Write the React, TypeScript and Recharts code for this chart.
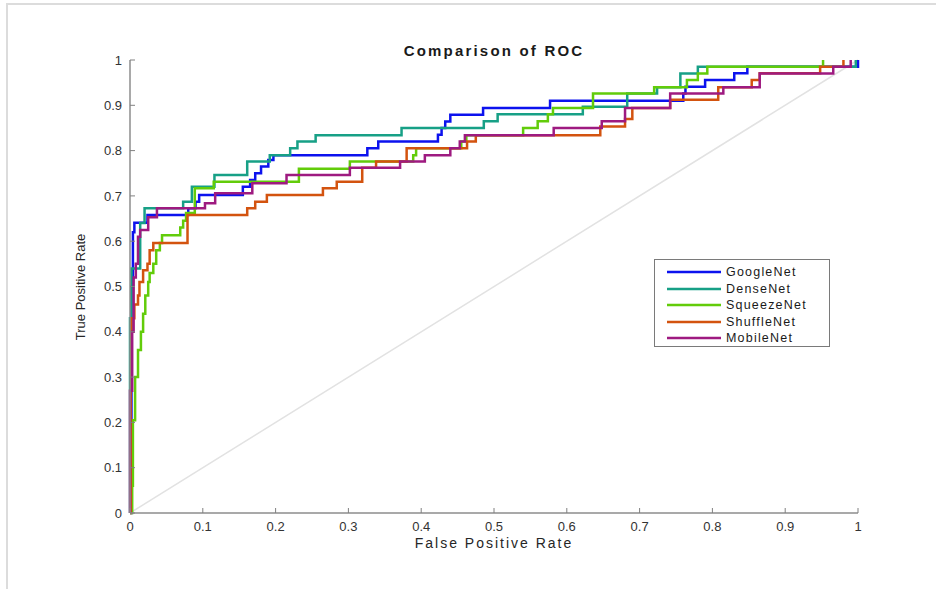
import { Line, LineChart, XAxis, YAxis } from "recharts";

// ROC points as [false positive rate, true positive rate]; the curve steps up at each fpr
const googleNetRoc: [number, number][] = [
  [0, 0], [0.002, 0.5], [0.004, 0.62], [0.006, 0.641], [0.024, 0.658], [0.08, 0.673],
  [0.09, 0.687], [0.095, 0.702], [0.155, 0.72], [0.165, 0.735], [0.172, 0.75], [0.18, 0.765],
  [0.19, 0.779], [0.197, 0.79], [0.326, 0.805], [0.341, 0.82], [0.423, 0.835], [0.428, 0.85],
  [0.433, 0.864], [0.44, 0.879], [0.485, 0.894], [0.577, 0.91], [0.76, 0.926], [0.763, 0.941],
  [0.79, 0.956], [0.83, 0.971], [0.848, 0.985], [1, 1],
];
const denseNetRoc: [number, number][] = [
  [0, 0], [0, 0.43], [0.002, 0.54], [0.014, 0.64], [0.02, 0.673], [0.073, 0.687],
  [0.085, 0.72], [0.116, 0.746], [0.161, 0.776], [0.192, 0.79], [0.22, 0.805], [0.23, 0.82],
  [0.255, 0.834], [0.373, 0.85], [0.486, 0.865], [0.505, 0.88], [0.622, 0.897], [0.683, 0.926],
  [0.724, 0.94], [0.756, 0.97], [0.78, 0.985], [0.997, 1],
];
const squeezeNetRoc: [number, number][] = [
  [0, 0], [0.003, 0.06], [0.004, 0.205], [0.007, 0.3], [0.011, 0.36], [0.015, 0.4],
  [0.018, 0.44], [0.021, 0.48], [0.025, 0.51], [0.027, 0.53], [0.032, 0.55], [0.036, 0.58],
  [0.041, 0.596], [0.044, 0.613], [0.069, 0.63], [0.073, 0.645], [0.077, 0.662], [0.089, 0.717],
  [0.115, 0.731], [0.232, 0.76], [0.302, 0.776], [0.389, 0.79], [0.393, 0.805], [0.455, 0.82],
  [0.462, 0.834], [0.54, 0.85], [0.56, 0.865], [0.574, 0.88], [0.581, 0.894], [0.636, 0.926],
  [0.72, 0.94], [0.765, 0.956], [0.78, 0.97], [0.793, 0.985], [0.952, 1],
];
const shuffleNetRoc: [number, number][] = [
  [0, 0], [0.001, 0.27], [0.002, 0.43], [0.006, 0.46], [0.011, 0.48], [0.013, 0.51],
  [0.018, 0.536], [0.024, 0.55], [0.027, 0.58], [0.032, 0.596], [0.079, 0.658], [0.161, 0.673],
  [0.172, 0.687], [0.188, 0.702], [0.265, 0.717], [0.284, 0.731], [0.319, 0.762], [0.338, 0.776],
  [0.38, 0.805], [0.463, 0.82], [0.475, 0.834], [0.646, 0.853], [0.68, 0.87], [0.69, 0.894],
  [0.742, 0.912], [0.808, 0.94], [0.854, 0.956], [0.865, 0.971], [0.948, 0.985], [0.98, 1],
];
const mobileNetRoc: [number, number][] = [
  [0, 0], [0, 0.27], [0.003, 0.4], [0.005, 0.52], [0.008, 0.55], [0.011, 0.61],
  [0.014, 0.625], [0.025, 0.653], [0.037, 0.673], [0.103, 0.684], [0.117, 0.706], [0.168, 0.728],
  [0.215, 0.746], [0.302, 0.762], [0.371, 0.776], [0.405, 0.79], [0.44, 0.805], [0.453, 0.82],
  [0.46, 0.834], [0.582, 0.85], [0.648, 0.865], [0.68, 0.894], [0.742, 0.926], [0.815, 0.94],
  [0.865, 0.97], [0.966, 0.985], [0.99, 1],
];
const chanceLine: [number, number][] = [[0, 0], [1, 1]];

const modelNames = ["GoogleNet", "DenseNet", "SqueezeNet", "ShuffleNet", "MobileNet"];
const modelColors = ["#0c12ee", "#17a086", "#62cc0a", "#d3530f", "#9e1a80"];
const modelRocs = [googleNetRoc, denseNetRoc, squeezeNetRoc, shuffleNetRoc, mobileNetRoc];

const rateTicks = [0, 0.1, 0.2, 0.3, 0.4, 0.5, 0.6, 0.7, 0.8, 0.9, 1];

const toPoints = (roc: [number, number][]) => roc.map(([fpr, tpr]) => ({ fpr, tpr }));

const FONT = '"Liberation Sans", Arial, sans-serif';
const AXIS_TICK = { fill: "#333", fontSize: 13, fontFamily: FONT };

export default function App() {
  return (
    <div
      style={{
        position: "absolute",
        left: 0,
        top: 0,
        width: 936,
        height: 589,
        background: "#fff",
        fontFamily: FONT,
        overflow: "hidden",
      }}
    >
      <div
        style={{
          position: "absolute",
          left: 6,
          top: 3,
          right: 0,
          bottom: 0,
          borderTop: "2px solid #dcdcdc",
          borderLeft: "2px solid #dcdcdc",
        }}
      />
      <LineChart width={936} height={589} margin={{ top: 60, right: 78, bottom: 0, left: 0 }}>
        <XAxis
          type="number"
          dataKey="fpr"
          domain={[0, 1]}
          ticks={rateTicks}
          tickFormatter={(v: number) => String(v)}
          allowDuplicatedCategory={false}
          height={76}
          tick={AXIS_TICK}
          tickSize={-5}
          tickMargin={14}
          tickLine={{ stroke: "#808080" }}
          axisLine={{ stroke: "#8c8c8c", strokeWidth: 1.5 }}
        />
        <YAxis
          type="number"
          dataKey="tpr"
          domain={[0, 1]}
          ticks={rateTicks}
          tickFormatter={(v: number) => String(v)}
          width={130}
          tick={AXIS_TICK}
          tickSize={-5}
          tickMargin={13}
          tickLine={{ stroke: "#808080" }}
          axisLine={{ stroke: "#8c8c8c", strokeWidth: 1.5 }}
        />
        <Line
          data={toPoints(chanceLine)}
          dataKey="tpr"
          stroke="#e2e2e2"
          strokeWidth={1.5}
          dot={false}
          legendType="none"
          isAnimationActive={false}
        />
        {modelNames.map((name, i) => (
          <Line
            key={name}
            name={name}
            type="stepAfter"
            data={toPoints(modelRocs[i])}
            dataKey="tpr"
            stroke={modelColors[i]}
            strokeWidth={2.5}
            dot={false}
            isAnimationActive={false}
          />
        ))}
      </LineChart>

      <div
        style={{
          position: "absolute",
          left: 0,
          width: 988,
          top: 42,
          textAlign: "center",
          fontWeight: "bold",
          fontSize: 15,
          letterSpacing: 2.2,
          color: "#1a1a1a",
        }}
      >
        Comparison of ROC
      </div>
      <div
        style={{
          position: "absolute",
          left: 0,
          width: 988,
          top: 535,
          textAlign: "center",
          fontSize: 14,
          letterSpacing: 2,
          color: "#262626",
        }}
      >
        False Positive Rate
      </div>
      <div
        style={{
          position: "absolute",
          left: 80,
          top: 287,
          transform: "translate(-50%, -50%) rotate(-90deg)",
          whiteSpace: "nowrap",
          fontSize: 13,
          color: "#262626",
        }}
      >
        True Positive Rate
      </div>

      <div
        style={{
          position: "absolute",
          left: 654,
          top: 259,
          width: 174,
          height: 86,
          border: "1px solid #7a7a7a",
          background: "#fff",
        }}
      >
        {modelNames.map((name, i) => (
          <div
            key={name}
            style={{
              position: "absolute",
              left: 12,
              top: 4 + i * 16.5,
              height: 16,
              display: "flex",
              alignItems: "center",
              fontSize: 12.5,
              letterSpacing: 1.2,
              color: "#1a1a1a",
              whiteSpace: "nowrap",
            }}
          >
            <svg width={54} height={6} style={{ marginRight: 5 }}>
              <line x1={0} y1={3} x2={54} y2={3} stroke={modelColors[i]} strokeWidth={2.5} />
            </svg>
            {name}
          </div>
        ))}
      </div>
    </div>
  );
}
